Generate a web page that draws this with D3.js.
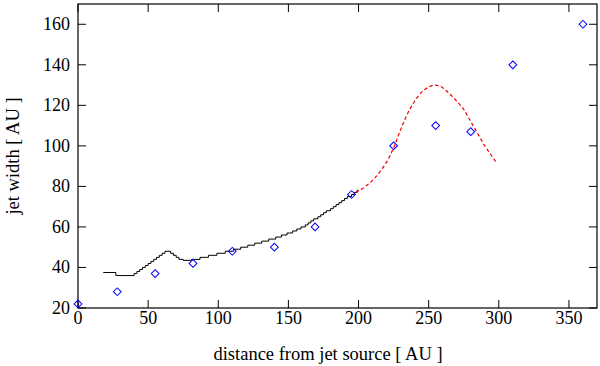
<!DOCTYPE html>
<html><head><meta charset="utf-8">
<script src="https://cdn.jsdelivr.net/npm/d3@7"></script>
<style>body{margin:0;background:#fff}svg{display:block}</style>
</head><body>
<svg id="c" width="600" height="366"></svg>
<script>
// observed jet widths (diamonds)
const obsX = [0, 28, 55, 82, 110, 140, 169, 195, 225, 255, 280, 310, 360];
const obsY = [22, 28, 37, 42, 48, 50, 60, 76, 100, 110, 107, 140, 160];
// model profile (black staircase)
const modelX = [18, 27, 40, 42, 44, 46, 48, 50, 52, 54, 56, 58, 60, 62, 66, 68, 70, 72, 75, 81, 87, 93, 99, 105, 111, 116, 121, 126, 131, 136, 141, 145, 149, 153, 156, 159, 162, 164, 166, 168, 171, 173, 175, 177, 180, 182, 184, 186, 188, 190, 192, 195, 197, 199, 200];
const modelY = [37.5, 36, 37, 38, 39, 40, 41, 42, 43, 44, 45, 46, 47, 48, 47, 46, 45, 44, 43.5, 44, 45, 46, 47, 48, 49, 50, 51, 52, 53, 54, 55, 56, 57, 58, 59, 60, 61, 62, 63, 64, 65, 66, 67, 68, 69, 70, 71, 72, 73, 74, 75, 76, 77, 78, 78];
// extrapolated profile (red dashed)
const extX = [198, 205, 210, 215, 220, 225, 230, 235, 240, 245, 250, 254, 258, 262, 266, 270, 275, 280, 285, 290, 295, 298];
const extY = [77, 80, 83, 87, 92, 99, 108, 116, 122, 126.5, 129, 130, 129.5, 127.5, 125, 122, 118, 112, 106, 100, 95, 92];
const xTicks = [0, 50, 100, 150, 200, 250, 300, 350];
const yTicks = [20, 40, 60, 80, 100, 120, 140, 160];

const L = 78, R = 597, T = 4, B = 308;
const svg = d3.select('#c');
const x = d3.scaleLinear().domain([0, 370]).range([L, R]);
const y = d3.scaleLinear().domain([20, 170]).range([B, T]);
const font = "'Liberation Serif', serif";

// frame
svg.append('rect').attr('x', L).attr('y', T).attr('width', R - L).attr('height', B - T)
  .attr('fill', 'none').attr('stroke', '#000').attr('stroke-width', 1.2);

const tl = 8;
const g = svg.append('g').attr('stroke', '#000').attr('stroke-width', 1);
xTicks.forEach(v => {
  g.append('line').attr('x1', x(v)).attr('x2', x(v)).attr('y1', B).attr('y2', B - tl);
  g.append('line').attr('x1', x(v)).attr('x2', x(v)).attr('y1', T).attr('y2', T + tl);
});
yTicks.forEach(v => {
  g.append('line').attr('x1', L).attr('x2', L + tl).attr('y1', y(v)).attr('y2', y(v));
  g.append('line').attr('x1', R).attr('x2', R - tl).attr('y1', y(v)).attr('y2', y(v));
});

svg.append('g').selectAll('text').data(xTicks).join('text')
  .attr('x', d => x(d)).attr('y', 324).attr('text-anchor', 'middle')
  .attr('font-family', font).attr('font-size', 18).text(d => d);
svg.append('g').selectAll('text').data(yTicks).join('text')
  .attr('x', 70).attr('y', d => y(d) + 6).attr('text-anchor', 'end')
  .attr('font-family', font).attr('font-size', 18).text(d => d);

svg.append('text').attr('x', 328).attr('y', 360).attr('text-anchor', 'middle')
  .attr('font-family', font).attr('font-size', 18.5).text('distance from jet source [ AU ]');
svg.append('text').attr('transform', 'translate(19,156) rotate(-90)').attr('text-anchor', 'middle')
  .attr('font-family', font).attr('font-size', 18.5).text('jet width [ AU ]');

// model staircase
const model = modelX.map((v, i) => [v, modelY[i]]);
svg.append('path').datum(model)
  .attr('d', d3.line().x(d => x(d[0])).y(d => y(d[1])).curve(d3.curveStepAfter))
  .attr('fill', 'none').attr('stroke', '#000').attr('stroke-width', 1);

// extrapolation
const ext = extX.map((v, i) => [v, extY[i]]);
svg.append('path').datum(ext)
  .attr('d', d3.line().x(d => x(d[0])).y(d => y(d[1])).curve(d3.curveMonotoneX))
  .attr('fill', 'none').attr('stroke', '#f00000').attr('stroke-width', 1.2)
  .attr('stroke-dasharray', '3.5,2.5');

// observations
const obs = obsX.map((v, i) => [v, obsY[i]]);
const sym = d3.symbol().type(d3.symbolSquare).size(30);
svg.append('g').selectAll('path').data(obs).join('path')
  .attr('d', sym)
  .attr('transform', d => `translate(${x(d[0])},${y(d[1])}) rotate(45)`)
  .attr('fill', 'none').attr('stroke', '#0000ff').attr('stroke-width', 1);
</script>
</body></html>
